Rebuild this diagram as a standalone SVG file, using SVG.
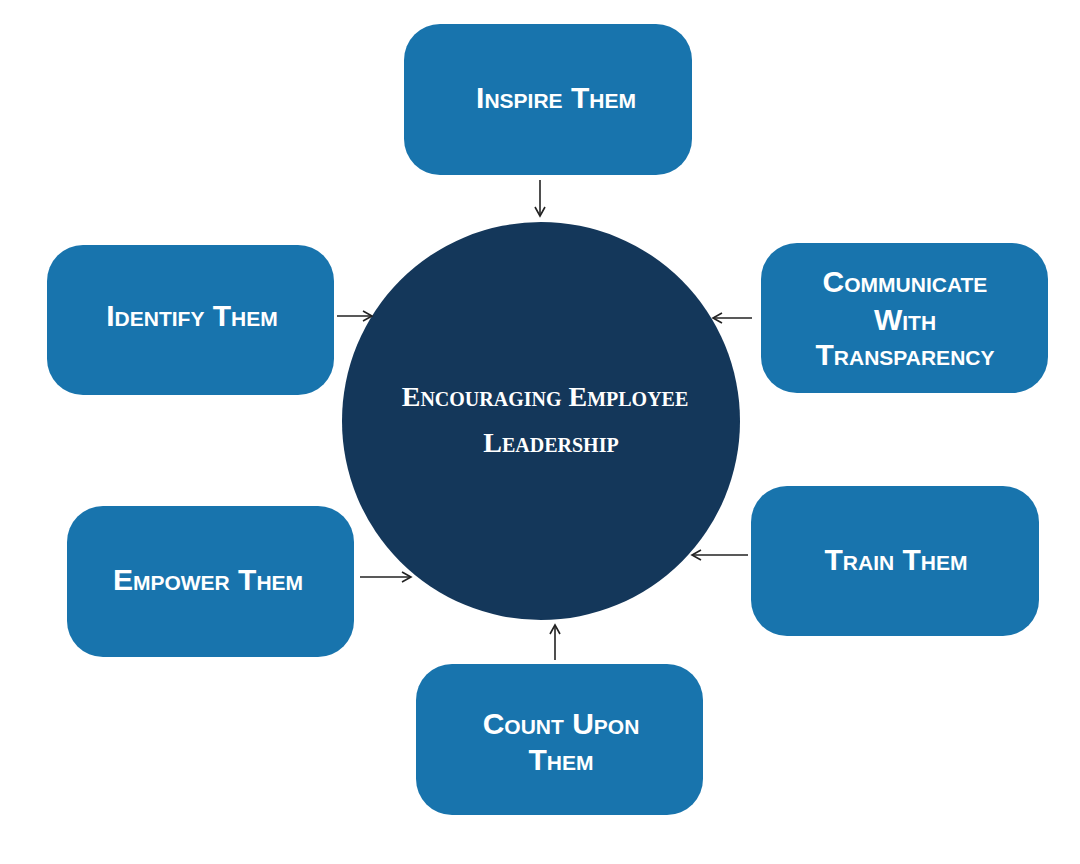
<svg xmlns="http://www.w3.org/2000/svg" width="1080" height="864" viewBox="0 0 1080 864">
<style>
.box{fill:#1874ad}
.bt{fill:#fff;font-family:"Liberation Sans",sans-serif;font-weight:bold;font-variant:small-caps;font-size:30px;text-anchor:middle}
.ct{fill:#fff;font-family:"Liberation Serif",serif;font-weight:bold;font-variant:small-caps;font-size:28px;text-anchor:middle}
.ar{stroke:#222;stroke-width:1.6;fill:none;marker-end:url(#a)}
</style>
<defs><marker id="a" markerWidth="12" markerHeight="12" refX="10" refY="6" orient="auto" markerUnits="userSpaceOnUse"><path d="M1,1 L10,6 L1,11" fill="none" stroke="#222" stroke-width="1.6"/></marker></defs>
<rect width="1080" height="864" fill="#fff"/>
<g id="center"><circle cx="541" cy="421" r="199" fill="#14375a"/>
<text class="ct" x="545" y="406">Encouraging Employee</text><text class="ct" x="551" y="452">Leadership</text></g>
<g id="inspire"><rect class="box" x="404" y="24" width="288" height="151" rx="36"/><text class="bt" x="556" y="108">Inspire Them</text></g>
<g id="identify"><rect class="box" x="47" y="245" width="287" height="150" rx="36"/><text class="bt" x="192" y="326">Identify Them</text></g>
<g id="communicate"><rect class="box" x="761" y="243" width="287" height="150" rx="36"/><text class="bt" x="905" y="292">Communicate</text><text class="bt" x="905" y="330">With</text><text class="bt" x="905" y="365">Transparency</text></g>
<g id="empower"><rect class="box" x="67" y="506" width="287" height="151" rx="36"/><text class="bt" x="208" y="590">Empower Them</text></g>
<g id="train"><rect class="box" x="751" y="486" width="288" height="150" rx="36"/><text class="bt" x="896" y="570">Train Them</text></g>
<g id="count"><rect class="box" x="416" y="664" width="287" height="151" rx="36"/><text class="bt" x="561" y="734">Count Upon</text><text class="bt" x="561" y="770">Them</text></g>
<g id="connectors">
<line class="ar" x1="540" y1="180" x2="540" y2="216"/>
<line class="ar" x1="337" y1="316" x2="372" y2="316"/>
<line class="ar" x1="752" y1="318" x2="713" y2="318"/>
<line class="ar" x1="360" y1="577" x2="411" y2="577"/>
<line class="ar" x1="748" y1="555" x2="692" y2="555"/>
<line class="ar" x1="555" y1="660" x2="555" y2="625"/>
</g>
</svg>
